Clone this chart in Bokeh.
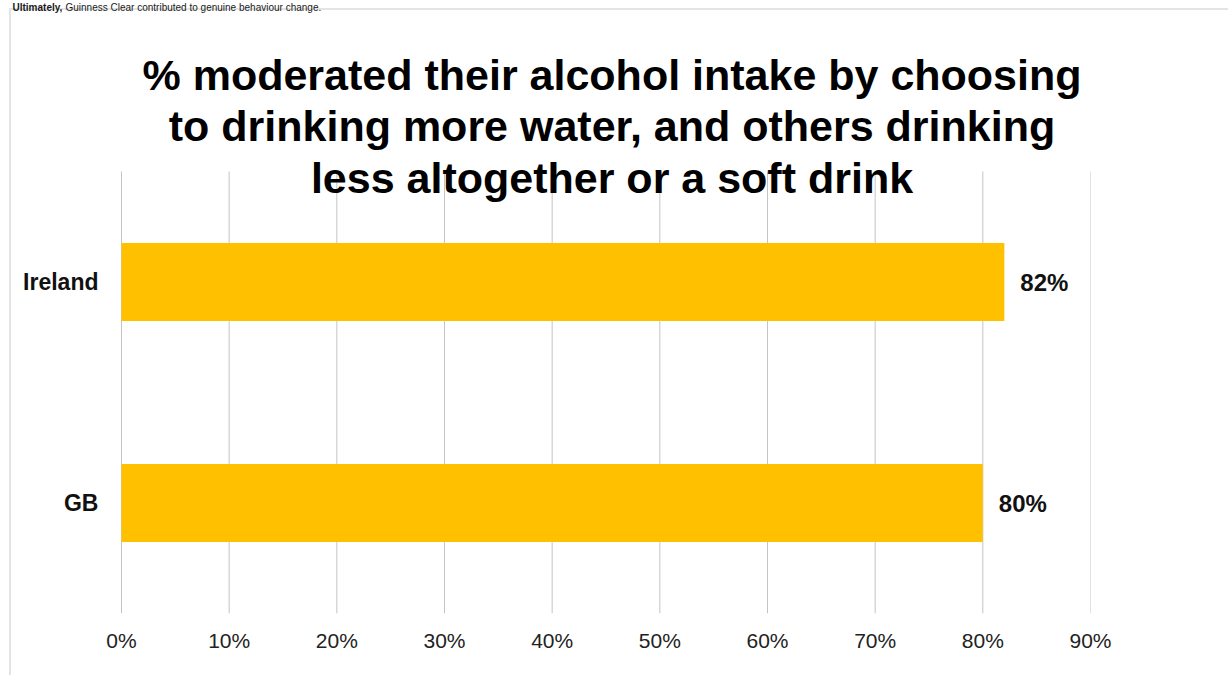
from bokeh.plotting import figure
from bokeh.models import Range1d, Label, ColumnDataSource, NumeralTickFormatter, FixedTicker, LabelSet
from bokeh.core.properties import value
from bokeh.embed import file_html
from bokeh.resources import INLINE

# ---- data ----
countries = ["GB", "Ireland"]
values = [0.80, 0.82]
value_labels = ["80%", "82%"]
x_ticks = [0.0, 0.1, 0.2, 0.3, 0.4, 0.5, 0.6, 0.7, 0.8, 0.9]
title_lines = [
    "% moderated their alcohol intake by choosing",
    "to drinking more water, and others drinking",
    "less altogether or a soft drink",
]
header_bold = "Ultimately,"
header_rest = "Guinness Clear contributed to genuine behaviour change."

FONT = "Liberation Sans"

n = len(countries)
cat_pos = [i + 0.5 for i in range(n)]

# frame spans the whole canvas height and from the left canvas edge to the 90% line
p = figure(width=1228, height=675, output_backend="svg", toolbar_location=None,
           x_range=Range1d(-121 / 1076.7, 0.9), y_range=Range1d(0, 613 / 221),
           min_border_left=0, min_border_right=138, min_border_top=0, min_border_bottom=62)
p.border_fill_color = None
p.background_fill_color = None
p.outline_line_color = None
p.styles = {
    "background": "linear-gradient(#e4e4e4,#e4e4e4) 9px 8px / 1219px 2px no-repeat, "
                  "linear-gradient(#e4e4e4,#e4e4e4) 9px 8px / 2px 667px no-repeat, #ffffff"
}

# vertical grid lines across the category band
p.segment(x0=x_ticks, x1=x_ticks, y0=[0] * len(x_ticks), y1=[n] * len(x_ticks),
          line_color="#c4c4c4", line_width=1)

src = ColumnDataSource(dict(pos=cat_pos, value=values, label=value_labels,
                            country=countries, zero=[0] * n))
p.hbar(y="pos", right="value", left=0, height=0.353, source=src,
       fill_color="#FFC000", line_color=None)

p.add_layout(LabelSet(x="value", y="pos", text="label", source=src, x_offset=16,
                      text_baseline="middle", text_align="left", text_font=value(FONT),
                      text_font_size="24px", text_font_style="bold", text_color="#111111"))

# category labels (left of the 0% line)
p.add_layout(LabelSet(x="zero", y="pos", text="country", source=src, x_offset=-23,
                      text_baseline="middle", text_align="right", text_font=value(FONT),
                      text_font_size="23px", text_font_style="bold", text_color="#111111"))

p.xaxis.ticker = FixedTicker(ticks=x_ticks)
p.xaxis.formatter = NumeralTickFormatter(format="0%")
p.xaxis.axis_line_color = None
p.xaxis.major_tick_line_color = None
p.xaxis.minor_tick_line_color = None
p.xaxis.major_label_text_font = FONT
p.xaxis.major_label_text_font_size = "21px"
p.xaxis.major_label_text_color = "#222222"
p.xaxis.major_label_standoff = 9

p.yaxis.visible = False
p.xgrid.grid_line_color = None
p.ygrid.grid_line_color = None

title_y = [539, 487.5, 436]
for line, yy in zip(title_lines, title_y):
    p.add_layout(Label(x=611.5, x_units="screen", y=yy, y_units="screen", text=line,
                       text_align="center", text_baseline="alphabetic", text_font=FONT,
                       text_font_size="43px", text_font_style="bold", text_color="#000000"))

# header line above the chart box
p.add_layout(Label(x=12, x_units="screen", y=606, y_units="screen", text=header_bold,
                   text_align="left", text_baseline="alphabetic", text_font=FONT,
                   text_font_size="10px", text_font_style="bold", text_color="#1a1a1a"))
p.add_layout(Label(x=65, x_units="screen", y=606, y_units="screen", text=header_rest,
                   text_align="left", text_baseline="alphabetic", text_font=FONT,
                   text_font_size="10px", text_font_style="normal", text_color="#1a1a1a"))

open("out.html", "w").write(file_html(p, INLINE))
